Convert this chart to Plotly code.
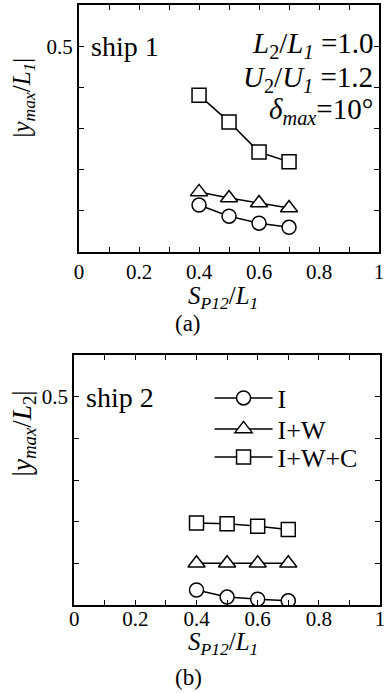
import plotly.graph_objects as go

# ---- data ----
sp12 = [0.4, 0.5, 0.6, 0.7]
ship1_I = [0.114, 0.087, 0.070, 0.060]
ship1_IW = [0.146, 0.131, 0.119, 0.107]
ship1_IWC = [0.381, 0.316, 0.243, 0.219]
ship2_I = [0.036, 0.019, 0.014, 0.010]
ship2_IW = [0.100, 0.100, 0.100, 0.100]
ship2_IWC = [0.197, 0.195, 0.189, 0.181]
series_names = ["I", "I+W", "I+W+C"]
symbols = ["circle", "triangle-up", "square"]
x_tickvals = [0, 0.1, 0.2, 0.3, 0.4, 0.5, 0.6, 0.7, 0.8, 0.9, 1.0]
x_ticktext = ["0", "", "0.2", "", "0.4", "", "0.6", "", "0.8", "", "1"]
y_tickvals = [0.1, 0.2, 0.3, 0.4, 0.5]
y_ticktext = ["", "", "", "", "0.5"]

FONT = "Liberation Serif, Times New Roman, serif"
W, H = 386, 693

fig = go.Figure()

legend_ids = ["legend", "legend2", "legend3"]

def add_panel(ys, xa, ya, legend):
    for name, sym, y, lg in zip(series_names, symbols, ys, legend_ids):
        fig.add_trace(go.Scatter(
            x=sp12, y=y, name=name, mode="lines+markers",
            xaxis=xa, yaxis=ya, showlegend=legend, legend=lg,
            line=dict(color="black", width=1.5),
            marker=dict(symbol=sym, size=14 if sym != "triangle-up" else 15,
                        color="white", line=dict(color="black", width=1.5)),
        ))

add_panel([ship1_I, ship1_IW, ship1_IWC], "x", "y", False)
add_panel([ship2_I, ship2_IW, ship2_IWC], "x2", "y2", True)

def px_x(p):
    return p / W

def px_y(p):
    return 1 - p / H

axis_common = dict(
    showline=True, linewidth=2, linecolor="black", mirror="ticks",
    ticks="inside", ticklen=5, tickwidth=1, tickcolor="black",
    showgrid=False, zeroline=False, ticklabeloverflow="allow",
    tickfont=dict(family=FONT, size=21, color="black"),
)

def legend_at(row_y):
    return dict(x=px_x(210), y=px_y(row_y), xanchor="left", yanchor="middle",
                bgcolor="rgba(0,0,0,0)", borderwidth=0,
                font=dict(family=FONT, size=26, color="black"),
                itemwidth=58)

fig.update_layout(
    width=W, height=H,
    margin=dict(l=0, r=0, t=0, b=0),
    paper_bgcolor="white", plot_bgcolor="white",
    showlegend=True,
    xaxis=dict(domain=[px_x(76), px_x(384)], range=[0, 1], anchor="y",
               tickvals=x_tickvals, ticktext=x_ticktext, **axis_common),
    yaxis=dict(domain=[px_y(252), px_y(5)], range=[0, 0.6], anchor="x",
               tickvals=y_tickvals, ticktext=y_ticktext, **axis_common),
    xaxis2=dict(domain=[px_x(71), px_x(385)], range=[0, 1], anchor="y2",
                tickvals=x_tickvals, ticktext=x_ticktext, ticklabelstandoff=-6,
                **axis_common),
    yaxis2=dict(domain=[px_y(605), px_y(355)], range=[0, 0.6], anchor="x2",
                tickvals=y_tickvals, ticktext=y_ticktext, **axis_common),
    legend=legend_at(398),
    legend2=legend_at(429),
    legend3=legend_at(457),
)

ann = []
def A(text, x, y, size, xanchor="center", yanchor="middle", angle=0):
    ann.append(dict(text=text, x=x, y=y, xref="paper", yref="paper",
                    xanchor=xanchor, yanchor=yanchor, showarrow=False,
                    textangle=angle, font=dict(family=FONT, size=size, color="black")))

# panel (a)
A("ship 1", px_x(86), px_y(47), 28, xanchor="left")
A("<i>L</i><sub>2</sub>/<i>L</i><sub><i>1</i></sub> =1.0", px_x(380), px_y(45), 29, xanchor="right")
A("<i>U</i><sub>2</sub>/<i>U</i><sub><i>1</i></sub> =1.2", px_x(380), px_y(79), 29, xanchor="right")
A("<i>δ</i><sub><i>max</i></sub>=10°", px_x(380), px_y(111), 29, xanchor="right")
A("|<i>y</i><sub><i>max</i></sub>/<i>L</i><sub><i>1</i></sub>|", px_x(18), px_y(98), 25, angle=-90)
A("<i>S</i><sub><i>P12</i></sub>/<i>L</i><sub><i>1</i></sub>", px_x(224), px_y(297), 25)
A("(a)", px_x(188), px_y(323), 23)
# panel (b)
A("ship 2", px_x(81), px_y(397), 28, xanchor="left")
A("|<i>y</i><sub><i>max</i></sub>/<i>L</i><sub>2</sub>|", px_x(19), px_y(434), 27, angle=-90)
A("<i>S</i><sub><i>P12</i></sub>/<i>L</i><sub><i>1</i></sub>", px_x(224), px_y(643), 25)
A("(b)", px_x(188), px_y(677), 23)
fig.update_layout(annotations=ann)

fig.write_html(
    "out.html",
    config={"displayModeBar": False},
    post_script="document.body.style.margin='0';document.body.style.overflow='hidden';",
)
